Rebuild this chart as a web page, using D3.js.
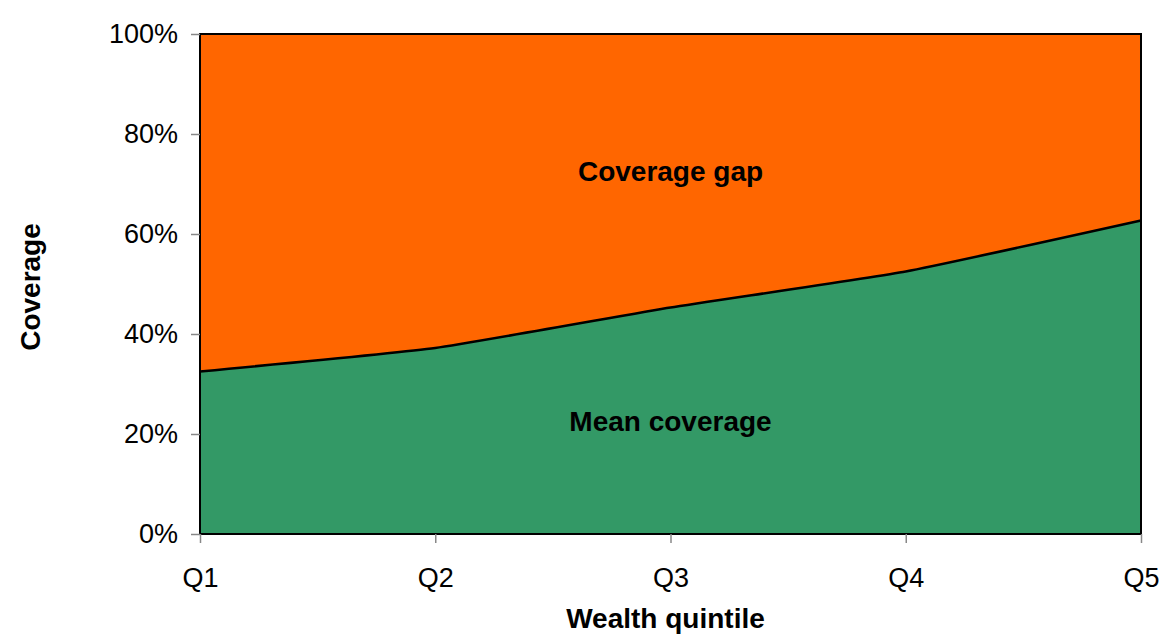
<!DOCTYPE html>
<html>
<head>
<meta charset="utf-8">
<script src="https://cdn.jsdelivr.net/npm/d3@7"></script>
<style>
  body { margin: 0; background: #fff; }
  svg { font-family: "Liberation Sans", Arial, sans-serif; }
</style>
</head>
<body>
<svg id="chart" width="1162" height="642"></svg>
<script>
var quintiles = ['Q1', 'Q2', 'Q3', 'Q4', 'Q5'];
var mean_coverage = [0.325, 0.372, 0.453, 0.525, 0.627];
var y_ticks = [0, 0.2, 0.4, 0.6, 0.8, 1.0];

var svg = d3.select('#chart');
var margin = { top: 34, bottom: 108, left: 200, right: 21 };
var inner_width = 1162 - margin.left - margin.right;
var inner_height = 642 - margin.top - margin.bottom;

var x_scale = d3.scalePoint().domain(quintiles).range([0, inner_width]);
var y_scale = d3.scaleLinear().domain([0, 1]).range([inner_height, 0]);

var g = svg.append('g')
     .attr('transform', 'translate(' + margin.left + ',' + margin.top + ')');

var rows = quintiles.map((q, i) => ({ q: q, v: mean_coverage[i] }));
var curve = d3.curveCardinal.tension(0.6);

// coverage gap (top area)
g.append('path')
     .datum(rows)
     .attr('fill', '#FF6600')
     .attr('d', d3.area().curve(curve)
          .x(d => x_scale(d.q))
          .y0(y_scale(1))
          .y1(d => y_scale(d.v)));

// mean coverage (bottom area)
g.append('path')
     .datum(rows)
     .attr('fill', '#339966')
     .attr('d', d3.area().curve(curve)
          .x(d => x_scale(d.q))
          .y0(y_scale(0))
          .y1(d => y_scale(d.v)));

g.append('path')
     .datum(rows)
     .attr('fill', 'none')
     .attr('stroke', '#000')
     .attr('stroke-width', 2.5)
     .attr('d', d3.line().curve(curve)
          .x(d => x_scale(d.q))
          .y(d => y_scale(d.v)));

// frame
g.append('rect')
     .attr('x', 0).attr('y', 0)
     .attr('width', inner_width).attr('height', inner_height)
     .attr('fill', 'none')
     .attr('stroke', '#000')
     .attr('stroke-width', 2);

var y_axis = g.append('g')
     .call(d3.axisLeft(y_scale).tickValues(y_ticks).tickFormat(d3.format('.0%')).tickSize(9).tickPadding(13));
y_axis.select('.domain').remove();
y_axis.selectAll('line').attr('stroke', '#888').attr('stroke-width', 1.5);
y_axis.selectAll('text').attr('font-size', 27).attr('fill', '#000')
     .attr('font-family', '"Liberation Sans", Arial, sans-serif');

var x_axis = g.append('g')
     .attr('transform', 'translate(0,' + inner_height + ')')
     .call(d3.axisBottom(x_scale).tickSize(9).tickPadding(25));
x_axis.select('.domain').remove();
x_axis.selectAll('line').attr('stroke', '#888').attr('stroke-width', 1.5);
x_axis.selectAll('text').attr('font-size', 27).attr('fill', '#000')
     .attr('font-family', '"Liberation Sans", Arial, sans-serif');

g.append('text')
     .attr('x', x_scale('Q3'))
     .attr('y', 181 - margin.top)
     .attr('text-anchor', 'middle')
     .attr('font-size', 28)
     .attr('font-weight', 'bold')
     .text('Coverage gap');

g.append('text')
     .attr('x', x_scale('Q3'))
     .attr('y', 431 - margin.top)
     .attr('text-anchor', 'middle')
     .attr('font-size', 28)
     .attr('font-weight', 'bold')
     .text('Mean coverage');

g.append('text')
     .attr('x', x_scale('Q3') - 5)
     .attr('y', 628 - margin.top)
     .attr('text-anchor', 'middle')
     .attr('font-size', 28)
     .attr('font-weight', 'bold')
     .text('Wealth quintile');

g.append('text')
     .attr('transform', 'rotate(-90)')
     .attr('x', -(287 - margin.top))
     .attr('y', 40 - margin.left)
     .attr('text-anchor', 'middle')
     .attr('font-size', 28)
     .attr('font-weight', 'bold')
     .text('Coverage');
</script>
</body>
</html>
